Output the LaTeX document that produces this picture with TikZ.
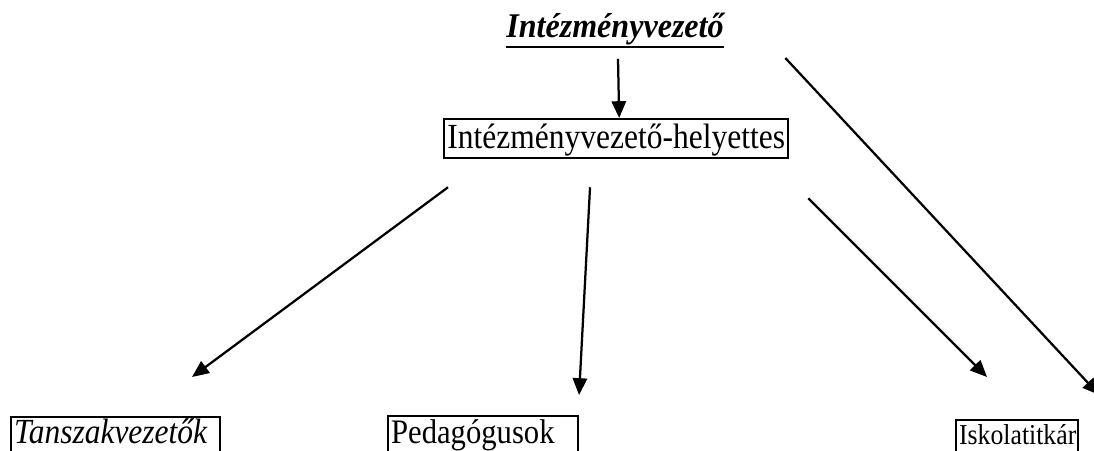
\documentclass[tikz,border=0pt]{standalone}
\usepackage{fontspec}
\setmainfont{Liberation Serif}
\usetikzlibrary{arrows.meta}

\tikzset{
  doboz/.style={draw, line width=1.6pt, inner sep=0pt, inner xsep=0.075cm, anchor=north west, align=left},
  nyil/.style={-{Triangle[length=0.42cm,width=0.36cm]}, line width=1.6pt},
  szoveg/.style={font=\fontsize{22.4pt}{26pt}\selectfont},
}
\newcommand{\nyujt}[1]{\scalebox{1}[1.12]{#1}}

\begin{document}
\begin{tikzpicture}[x=0.025cm,y=-0.025cm]
    \useasboundingbox (0,0) rectangle (1094,450);
    \clip (0,0) rectangle (1094,450);
    % vezeto
    \node[inner sep=0pt, anchor=base, font=\fontsize{22.8pt}{26pt}\selectfont\bfseries\itshape] (vez) at (615,37) {\scalebox{1}[1.08]{Intézményvezető}};
    \draw[line width=1.6pt] ([yshift=-0.05cm]vez.south west) -- ([yshift=-0.05cm]vez.south east);
    % helyettes
    \node[doboz, szoveg, align=center, minimum width=8.6cm, text height=0.725cm, text depth=0.25cm] (helyettes) at (443,118) {\nyujt{Intézményvezető-helyettes}};
    % also sor
    \node[doboz, szoveg, text width=5.075cm, text height=0.65cm, text depth=0.3cm] (tansz) at (10,416) {\nyujt{\itshape Tanszakvezetők}};
    \node[doboz, font=\fontsize{21.8pt}{25pt}\selectfont, text width=4.6cm, text height=0.675cm, text depth=0.3cm] (ped) at (387,415) {\nyujt{Pedagógusok}};
    \node[doboz, font=\fontsize{18.3pt}{22pt}\selectfont, text width=2.9cm, text height=0.6cm, text depth=0.3cm] (isk) at (955,419) {\nyujt{Iskolatitkár}};
    % nyilak
    \draw[nyil] ([xshift=0.075cm,yshift=-0.35cm]vez.south) -- ([xshift=0.075cm]helyettes.north);
    \draw[nyil] ([xshift=0.125cm,yshift=-0.7cm]helyettes.south west) -- ([xshift=4.55cm,yshift=0.975cm]tansz.north west);
    \draw[nyil] ([xshift=3.675cm,yshift=-0.7cm]helyettes.south west) -- ([xshift=4.8cm,yshift=0.5cm]ped.north west);
    \draw[nyil] ([xshift=0.475cm,yshift=-0.975cm]helyettes.south east) -- ([xshift=0.8cm,yshift=1.05cm]isk.north west);
    \draw[nyil] ([xshift=-0.1cm,yshift=1.5cm]helyettes.north east) -- ([xshift=0.5cm,yshift=0.6cm]isk.north east);
\end{tikzpicture}
\end{document}
